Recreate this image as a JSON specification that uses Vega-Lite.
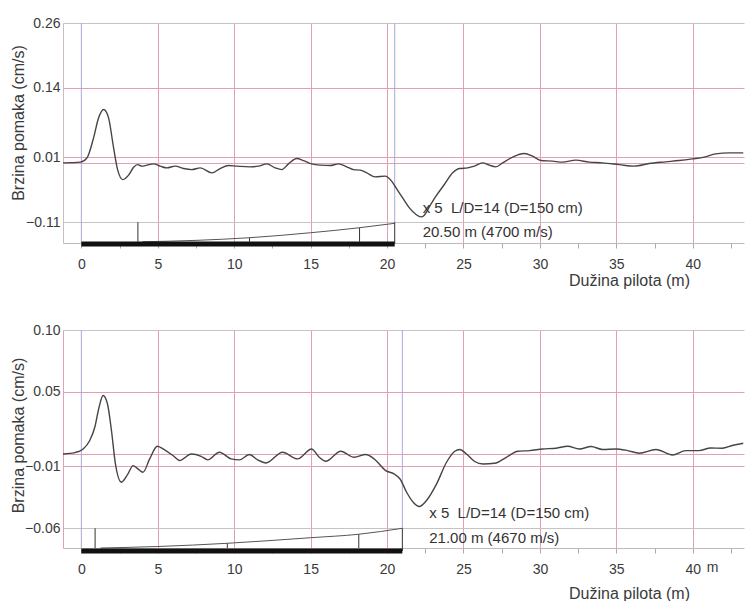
{
  "$schema": "https://vega.github.io/schema/vega-lite/v6.json",
  "padding": {"left": 10, "top": 16, "right": 0, "bottom": 0},
  "background": "white",
  "config": {
    "view": {"stroke": null},
    "font": "Liberation Sans",
    "axis": {"labelFont": "Liberation Sans", "titleFont": "Liberation Sans", "labelColor": "#3a3a3a", "titleColor": "#3a3a3a", "titleFontWeight": "normal", "labelFontSize": 14, "titleFontSize": 16}
  },
  "spacing": 87,
  "bounds": "flush",
  "datasets": {
    "top_curve": [
      {"x": -1.2, "y": 0}, {"x": -0.07, "y": 0.0013}, {"x": 0.37, "y": 0.0093}, {"x": 0.8, "y": 0.0465}, {"x": 1.13, "y": 0.0837}, {"x": 1.46, "y": 0.0991}, {"x": 1.78, "y": 0.0837}, {"x": 2.11, "y": 0.0279}, {"x": 2.37, "y": -0.0125}, {"x": 2.72, "y": -0.0311}, {"x": 3.09, "y": -0.0229}, {"x": 3.42, "y": -0.008}, {"x": 3.68, "y": -0.0032}, {"x": 3.96, "y": -0.0061}, {"x": 4.29, "y": -0.0043}, {"x": 4.73, "y": -0.0019}, {"x": 5.16, "y": -0.0061}, {"x": 5.6, "y": -0.0093}, {"x": 6.14, "y": -0.0061}, {"x": 6.69, "y": -0.0106}, {"x": 7.23, "y": -0.0125}, {"x": 7.78, "y": -0.0093}, {"x": 8.54, "y": -0.0186}, {"x": 9.08, "y": -0.0106}, {"x": 9.63, "y": -0.005}, {"x": 10.17, "y": -0.0061}, {"x": 11.05, "y": -0.0074}, {"x": 11.59, "y": -0.0061}, {"x": 12.13, "y": -0.0019}, {"x": 12.68, "y": -0.0093}, {"x": 13.11, "y": -0.0125}, {"x": 13.55, "y": -0.0019}, {"x": 14.09, "y": 0.008}, {"x": 14.53, "y": 0.0043}, {"x": 15.07, "y": -0.0019}, {"x": 15.62, "y": -0.0043}, {"x": 16.27, "y": -0.005}, {"x": 16.82, "y": -0.0019}, {"x": 17.36, "y": -0.0074}, {"x": 17.8, "y": -0.0125}, {"x": 18.24, "y": -0.0136}, {"x": 18.67, "y": -0.0186}, {"x": 19.22, "y": -0.026}, {"x": 19.87, "y": -0.0247}, {"x": 20.3, "y": -0.034}, {"x": 20.59, "y": -0.0465}, {"x": 21.02, "y": -0.0651}, {"x": 21.46, "y": -0.0837}, {"x": 21.9, "y": -0.0961}, {"x": 22.22, "y": -0.1004}, {"x": 22.44, "y": -0.0972}, {"x": 22.8, "y": -0.08}, {"x": 23.2, "y": -0.0619}, {"x": 23.75, "y": -0.0403}, {"x": 24.29, "y": -0.0186}, {"x": 24.73, "y": -0.0106}, {"x": 25.27, "y": -0.0093}, {"x": 25.71, "y": -0.0061}, {"x": 26.25, "y": 0}, {"x": 26.69, "y": -0.0043}, {"x": 27.12, "y": -0.0074}, {"x": 27.56, "y": 0}, {"x": 28.21, "y": 0.0106}, {"x": 28.97, "y": 0.0173}, {"x": 29.52, "y": 0.0125}, {"x": 30.07, "y": 0.0043}, {"x": 30.82, "y": 0.0032}, {"x": 31.47, "y": 0.0013}, {"x": 32.35, "y": 0.005}, {"x": 33.22, "y": 0.0013}, {"x": 34.09, "y": 0}, {"x": 35.18, "y": -0.0032}, {"x": 36.16, "y": -0.0061}, {"x": 37.14, "y": -0.0013}, {"x": 38.24, "y": 0.0019}, {"x": 39.1, "y": 0.0043}, {"x": 39.97, "y": 0.0074}, {"x": 40.74, "y": 0.0106}, {"x": 41.5, "y": 0.0167}, {"x": 42.37, "y": 0.0186}, {"x": 43.3, "y": 0.0186}
    ],
    "bot_curve": [
      {"x": -1.2, "y": 0}, {"x": -0.42, "y": 0.0011}, {"x": 0.12, "y": 0.004}, {"x": 0.55, "y": 0.0108}, {"x": 0.88, "y": 0.0215}, {"x": 1.16, "y": 0.0377}, {"x": 1.42, "y": 0.0471}, {"x": 1.71, "y": 0.0403}, {"x": 1.97, "y": 0.0189}, {"x": 2.23, "y": -0.0081}, {"x": 2.62, "y": -0.0228}, {"x": 3.05, "y": -0.0161}, {"x": 3.38, "y": -0.0094}, {"x": 3.7, "y": -0.0121}, {"x": 4.03, "y": -0.0148}, {"x": 4.47, "y": -0.004}, {"x": 4.97, "y": 0.0062}, {"x": 5.45, "y": 0.0032}, {"x": 5.99, "y": -0.0013}, {"x": 6.43, "y": -0.0053}, {"x": 7.19, "y": 0}, {"x": 7.84, "y": -0.0019}, {"x": 8.27, "y": -0.0048}, {"x": 9.03, "y": 0.0014}, {"x": 9.8, "y": -0.004}, {"x": 10.34, "y": -0.0048}, {"x": 10.99, "y": -0.0005}, {"x": 11.53, "y": -0.0048}, {"x": 12.08, "y": -0.0073}, {"x": 13.16, "y": 0.0014}, {"x": 14.14, "y": -0.004}, {"x": 15.06, "y": 0.004}, {"x": 15.56, "y": -0.0027}, {"x": 15.99, "y": -0.0059}, {"x": 16.97, "y": 0.0022}, {"x": 17.84, "y": -0.0027}, {"x": 18.6, "y": -0.0005}, {"x": 19.15, "y": -0.004}, {"x": 19.91, "y": -0.0134}, {"x": 20.45, "y": -0.0161}, {"x": 20.85, "y": -0.0202}, {"x": 21.28, "y": -0.0309}, {"x": 21.71, "y": -0.039}, {"x": 22.1, "y": -0.0424}, {"x": 22.58, "y": -0.0376}, {"x": 23.24, "y": -0.0242}, {"x": 23.89, "y": -0.0067}, {"x": 24.43, "y": 0.0022}, {"x": 24.76, "y": 0.0036}, {"x": 25.19, "y": 0}, {"x": 25.73, "y": -0.0061}, {"x": 26.28, "y": -0.0081}, {"x": 27.04, "y": -0.0075}, {"x": 27.8, "y": -0.0027}, {"x": 28.56, "y": 0.0022}, {"x": 29.32, "y": 0.0027}, {"x": 30.19, "y": 0.004}, {"x": 31.06, "y": 0.0046}, {"x": 31.82, "y": 0.0062}, {"x": 32.58, "y": 0.004}, {"x": 33.35, "y": 0.006}, {"x": 34.1, "y": 0.0036}, {"x": 34.98, "y": 0.004}, {"x": 35.74, "y": 0.0027}, {"x": 36.5, "y": 0.0006}, {"x": 37.59, "y": 0.0036}, {"x": 38.67, "y": -0.0008}, {"x": 39.54, "y": 0.0027}, {"x": 40.41, "y": 0.0027}, {"x": 41.17, "y": 0.0048}, {"x": 41.93, "y": 0.0046}, {"x": 42.58, "y": 0.0068}, {"x": 43.3, "y": 0.0086}
    ],
    "top_blue": [{"x": 0, "y": 0.26, "y2": -0.149}, {"x": 20.5, "y": 0.26, "y2": -0.11}],
    "bot_blue": [{"x": 0, "y": 0.1, "y2": -0.0759}, {"x": 21.0, "y": 0.1, "y2": -0.06}],
    "top_profile": [{"x": 4.0, "y": -0.1467}, {"x": 7.5, "y": -0.1441}, {"x": 11.0, "y": -0.1392}, {"x": 15.0, "y": -0.1299}, {"x": 18.2, "y": -0.1206}, {"x": 20.5, "y": -0.1124}],
    "bot_profile": [{"x": 1.25, "y": -0.0759}, {"x": 5.0, "y": -0.0747}, {"x": 9.55, "y": -0.0721}, {"x": 15.0, "y": -0.0676}, {"x": 18.15, "y": -0.0648}, {"x": 21.0, "y": -0.06}],
    "top_ticks": [{"x": 3.7, "y": -0.1105, "y2": -0.1467}, {"x": 11.0, "y": -0.1392, "y2": -0.1467}, {"x": 18.2, "y": -0.1206, "y2": -0.1467}, {"x": 20.5, "y": -0.1105, "y2": -0.1505}],
    "bot_ticks": [{"x": 0.9, "y": -0.06, "y2": -0.0759}, {"x": 9.55, "y": -0.0721, "y2": -0.0759}, {"x": 18.15, "y": -0.0648, "y2": -0.0759}, {"x": 21.0, "y": -0.06, "y2": -0.0783}],
    "top_bar": [{"x": 0, "x2": 20.5, "y": -0.1509}],
    "bot_bar": [{"x": 0, "x2": 21.0, "y": -0.0783}],
    "top_text": [{"x": 22.33, "y": -0.084, "label": "x 5 \u00a0L/D=14 (D=150 cm)"}, {"x": 22.33, "y": -0.1286, "label": "20.50 m (4700 m/s)"}],
    "bot_text": [{"x": 22.76, "y": -0.0479, "label": "x 5 \u00a0L/D=14 (D=150 cm)"}, {"x": 22.76, "y": -0.0681, "label": "21.00 m (4670 m/s)"}],
    "bot_unit": [{"x": 41.3, "y": -0.092, "label": "m"}]
  },
  "vconcat": [
    {
      "width": 681,
      "height": 220,
      "encoding": {
        "x": {"field": "x", "type": "quantitative", "scale": {"domain": [-1.2, 43.35], "nice": false, "zero": false},
          "axis": {"title": "Dužina pilota (m)", "values": [0, 2.5, 5, 7.5, 10, 12.5, 15, 17.5, 20, 22.5, 25, 27.5, 30, 32.5, 35, 37.5, 40, 42.5],
            "grid": true, "gridColor": {"condition": {"test": "datum.value % 5 === 0 && datum.value > 0", "value": "#e3a0b2"}, "value": "transparent"},
            "tickSize": 5, "tickColor": "#aaaaaa", "domainColor": "#bbbbbb", "labelPadding": 9, "labelOverlap": false, "labelFlush": false,
            "labelExpr": "datum.value % 5 === 0 ? format(datum.value, 'd') : ''",
            "titleX": 566, "titleY": 37, "titleAlign": "center", "titleBaseline": "middle"}},
        "y": {"field": "y", "type": "quantitative", "scale": {"domain": [-0.149, 0.26], "nice": false, "zero": false},
          "axis": {"title": "Brzina pomaka (cm/s)", "values": [-0.11, 0, 0.01, 0.14, 0.26], "format": ".2f",
            "labelExpr": "datum.value === 0 ? '' : datum.label",
            "grid": true, "gridColor": {"condition": {"test": "datum.value === 0.26 || datum.value === -0.11", "value": "#c4c4c4"}, "value": "#e3a0b2"},
            "ticks": false, "tickSize": 0, "labelPadding": 3, "domainColor": "#cbbcc2", "labelOverlap": false, "labelFlush": false,
            "titleX": -40, "titleY": 99.5, "titleAlign": "center", "titleBaseline": "alphabetic", "titleAngle": 270}}
      },
      "layer": [
        {"data": {"name": "top_blue"}, "mark": {"type": "rule", "color": "#a9a9d8", "strokeWidth": 1}, "encoding": {"y2": {"field": "y2"}}},
        {"data": {"name": "top_curve"}, "mark": {"type": "line", "color": "#454545", "strokeWidth": 1.4, "interpolate": "monotone"}},
        {"data": {"name": "top_profile"}, "mark": {"type": "line", "color": "#555555", "strokeWidth": 1, "interpolate": "monotone"}},
        {"data": {"name": "top_ticks"}, "mark": {"type": "rule", "color": "#333333", "strokeWidth": 1}, "encoding": {"y2": {"field": "y2"}}},
        {"data": {"name": "top_bar"}, "mark": {"type": "rule", "color": "#111111", "strokeWidth": 5}, "encoding": {"x2": {"field": "x2"}}},
        {"data": {"name": "top_text"}, "mark": {"type": "text", "align": "left", "baseline": "middle", "fontSize": 15, "color": "#333333", "font": "Liberation Sans"}, "encoding": {"text": {"field": "label"}}}
      ]
    },
    {
      "width": 681,
      "height": 218,
      "encoding": {
        "x": {"field": "x", "type": "quantitative", "scale": {"domain": [-1.2, 43.35], "nice": false, "zero": false},
          "axis": {"title": "Dužina pilota (m)", "values": [0, 2.5, 5, 7.5, 10, 12.5, 15, 17.5, 20, 22.5, 25, 27.5, 30, 32.5, 35, 37.5, 40, 42.5],
            "grid": true, "gridColor": {"condition": {"test": "datum.value % 5 === 0 && datum.value > 0", "value": "#e3a0b2"}, "value": "transparent"},
            "tickSize": 5, "tickColor": "#aaaaaa", "domainColor": "#bbbbbb", "labelPadding": 9, "labelOverlap": false, "labelFlush": false,
            "labelExpr": "datum.value % 5 === 0 ? format(datum.value, 'd') : ''",
            "titleX": 566, "titleY": 45, "titleAlign": "center", "titleBaseline": "middle"}},
        "y": {"field": "y", "type": "quantitative", "scale": {"domain": [-0.0759, 0.1], "nice": false, "zero": false},
          "axis": {"title": "Brzina pomaka (cm/s)", "values": [-0.06, -0.01, 0, 0.05, 0.1], "format": ".2f",
            "labelExpr": "datum.value === 0 ? '' : datum.label",
            "grid": true, "gridColor": {"condition": {"test": "datum.value === 0.1 || datum.value === -0.06", "value": "#c4c4c4"}, "value": "#e3a0b2"},
            "ticks": false, "tickSize": 0, "labelPadding": 3, "domainColor": "#e3a0b2", "labelOverlap": false, "labelFlush": false,
            "titleX": -40, "titleY": 105, "titleAlign": "center", "titleBaseline": "alphabetic", "titleAngle": 270}}
      },
      "layer": [
        {"data": {"name": "bot_blue"}, "mark": {"type": "rule", "color": "#a9a9d8", "strokeWidth": 1}, "encoding": {"y2": {"field": "y2"}}},
        {"data": {"name": "bot_curve"}, "mark": {"type": "line", "color": "#454545", "strokeWidth": 1.4, "interpolate": "monotone"}},
        {"data": {"name": "bot_profile"}, "mark": {"type": "line", "color": "#555555", "strokeWidth": 1, "interpolate": "monotone"}},
        {"data": {"name": "bot_ticks"}, "mark": {"type": "rule", "color": "#333333", "strokeWidth": 1}, "encoding": {"y2": {"field": "y2"}}},
        {"data": {"name": "bot_bar"}, "mark": {"type": "rule", "color": "#111111", "strokeWidth": 5}, "encoding": {"x2": {"field": "x2"}}},
        {"data": {"name": "bot_text"}, "mark": {"type": "text", "align": "left", "baseline": "middle", "fontSize": 15, "color": "#333333", "font": "Liberation Sans"}, "encoding": {"text": {"field": "label"}}},
        {"data": {"name": "bot_unit"}, "mark": {"type": "text", "align": "center", "baseline": "middle", "fontSize": 14, "color": "#3a3a3a", "font": "Liberation Sans"}, "encoding": {"text": {"field": "label"}}}
      ]
    }
  ]
}
